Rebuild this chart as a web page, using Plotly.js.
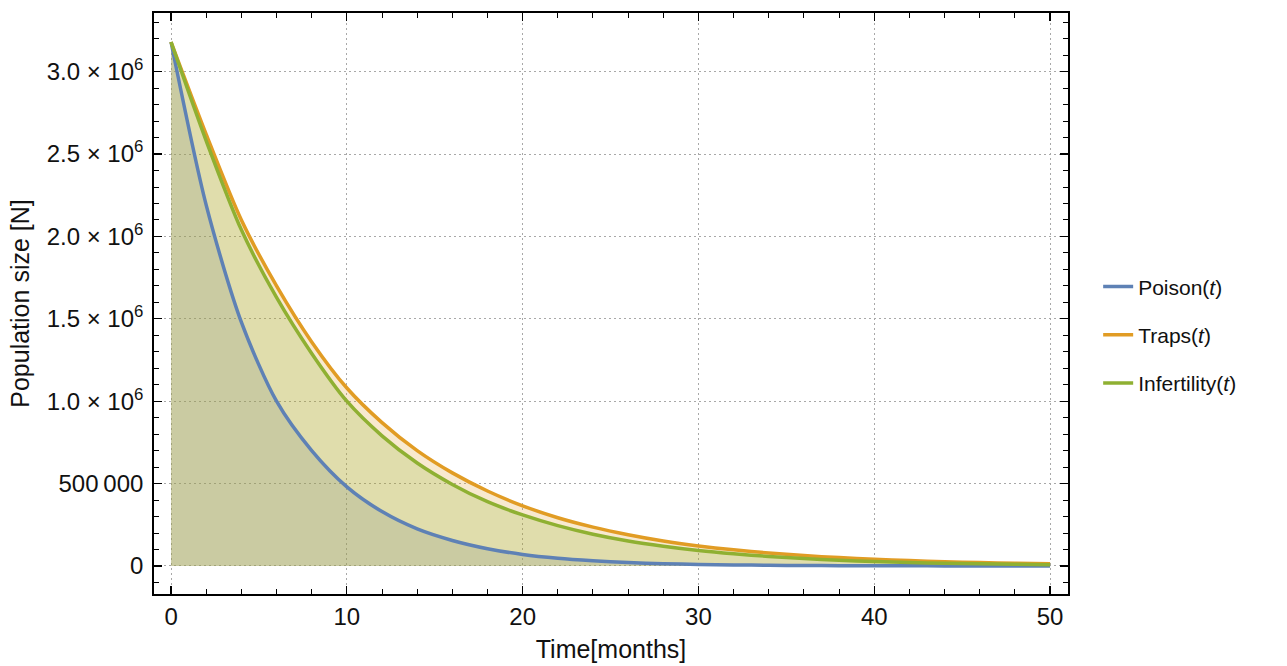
<!DOCTYPE html>
<html>
<head>
<meta charset="utf-8">
<script src="https://cdn.plot.ly/plotly-3.0.1.min.js"></script>
<style>html,body{margin:0;padding:0;background:#fff;}#chart{width:1287px;height:666px;}</style>
</head>
<body>
<div id="chart"></div>
<script>
// Time in months
const time = [0,2,4,6,8,10,12,14,16,18,20,22,24,26,28,30,32,34,36,38,40,42,44,46,48,50];
// Population sizes
const poison = [3180000,2190000,1480000,1000000,700000,480000,330000,225000,155000,105000,70000,47000,32000,21000,14000,9500,6400,4300,2900,1900,1300,900,600,400,270,180];
const traps = [3180000,2620000,2100000,1700000,1360000,1080000,870000,700000,565000,455000,365000,293000,236000,190000,152000,122000,98000,79000,63000,51000,41000,33000,26000,21000,17000,13500];
const infertility = [3180000,2580000,2040000,1630000,1290000,1000000,790000,625000,495000,390000,310000,245000,193000,152000,120000,94000,74000,58000,45000,35000,27000,21000,16500,13000,10000,7800];

const names = ['Poison(<i>t</i>)','Traps(<i>t</i>)','Infertility(<i>t</i>)'];
const series = [poison, traps, infertility];
const colors = ['#5e81b5','#e19c24','#8fb032'];
const fills = ['rgba(94,129,181,0.22)','rgba(225,156,36,0.22)','rgba(143,176,50,0.22)'];

const yTickVals = [0,500000,1000000,1500000,2000000,2500000,3000000];
const yTickText = ['0','500\u2009000','1.0 × 10<sup>6</sup>','1.5 × 10<sup>6</sup>','2.0 × 10<sup>6</sup>','2.5 × 10<sup>6</sup>','3.0 × 10<sup>6</sup>'];
const xTickVals = [0,10,20,30,40,50];

const traces = [];
series.forEach((s,i)=>{
  traces.push({x:time,y:s,type:'scatter',mode:'lines',line:{width:0,shape:'spline',smoothing:0.8},
    fill:'tozeroy',fillcolor:fills[i],showlegend:false,hoverinfo:'skip'});
});
series.forEach((s,i)=>{
  traces.push({x:time,y:s,type:'scatter',mode:'lines',name:names[i],legendgroup:'g'+i,
    line:{color:colors[i],width:3.5,shape:'spline',smoothing:0.8}});
});

const fam = 'Liberation Sans, Arial, sans-serif';
const font = {family:fam, size:24, color:'#111'};
const layout = {
  width:1287, height:666,
  margin:{l:154, r:219, t:13, b:72},
  paper_bgcolor:'#fff', plot_bgcolor:'#fff',
  font:font,
  showlegend:true,
  legend:{x:1.033, y:0.446, xanchor:'left', yanchor:'middle', tracegroupgap:18,
    font:{family:fam,size:21,color:'#111'}, bgcolor:'rgba(0,0,0,0)'},
  xaxis:{range:[-0.97,51.02], tickvals:xTickVals, ticks:'inside', ticklen:8, tickwidth:1.2, tickcolor:'#000',
    showline:true, linecolor:'#000', linewidth:1.8, mirror:'ticks', zeroline:false,
    showgrid:true, gridcolor:'#a8a8a8', griddash:'2px,3px', gridwidth:1,
    minor:{dtick:2, ticks:'inside', ticklen:5, tickwidth:1, tickcolor:'#000', showgrid:false},
    tickfont:{size:24}, ticklabelstandoff:0,
    title:{text:'Time[months]', font:{size:25}, standoff:12}},
  yaxis:{range:[-170000,3356000], tickvals:yTickVals, ticktext:yTickText, ticks:'inside', ticklen:8, tickwidth:1.2, tickcolor:'#000',
    showline:true, linecolor:'#000', linewidth:1.8, mirror:'ticks', zeroline:false,
    showgrid:true, gridcolor:'#a8a8a8', griddash:'2px,3px', gridwidth:1,
    minor:{dtick:100000, ticks:'inside', ticklen:5, tickwidth:1, tickcolor:'#000', showgrid:false},
    tickfont:{size:24}, ticklabelstandoff:4,
    title:{text:'Population size [N]', font:{size:25}, standoff:10}}
};
Plotly.newPlot('chart', traces, layout, {displayModeBar:false, staticPlot:true});
</script>
</body>
</html>
